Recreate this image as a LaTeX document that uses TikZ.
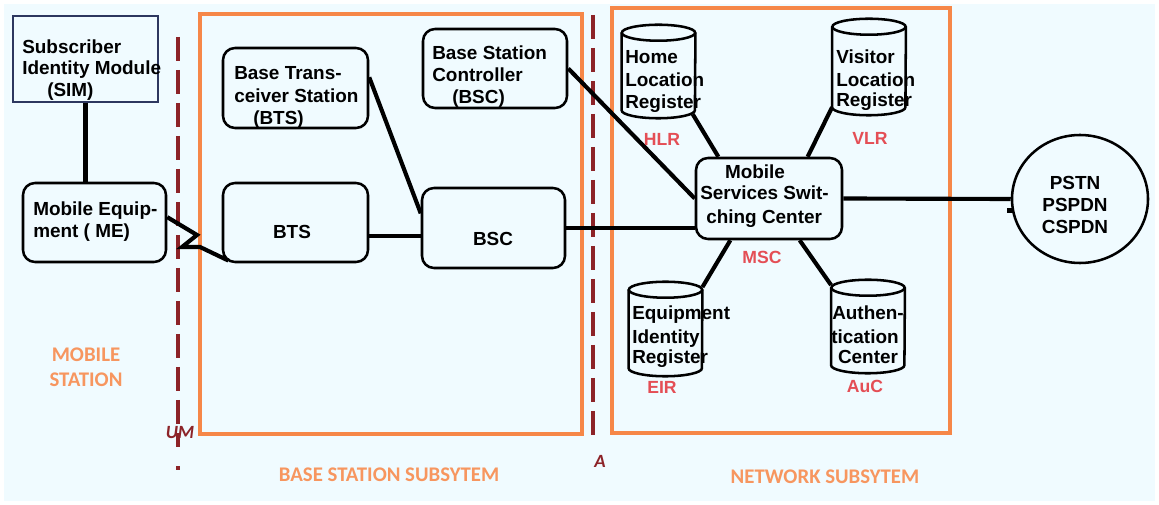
\documentclass[tikz,border=0pt]{standalone}
\usepackage{fontspec}
\setmainfont{Liberation Sans}
\newfontfamily\calfont{Carlito}
\usetikzlibrary{shapes.geometric}

\definecolor{bgc}{RGB}{240,251,255}
\definecolor{orng}{RGB}{246,135,72}
\definecolor{orngtxt}{RGB}{247,150,95}
\definecolor{dred}{RGB}{140,35,40}
\definecolor{lred}{RGB}{228,78,85}
\definecolor{simc}{RGB}{45,55,95}

\newcommand\txtfont{\fontsize{14.2}{17}\selectfont\bfseries}
\newcommand\abbrfont{\fontsize{13.2}{15}\selectfont\bfseries}
\newcommand\subfont{\calfont\fontsize{15.6}{18}\selectfont\bfseries}
\newcommand\ifacefont{\calfont\fontsize{14}{16}\selectfont\bfseries\itshape}

% database drawn on an invisible rectangle node
\newcommand\cylinderdraw[1]{%
  \draw[cylline] ([yshift=-6pt]#1.north west) -- ([yshift=6pt]#1.south west)
    arc[start angle=180, end angle=360, x radius=27.5pt, y radius=6pt]
    -- ([yshift=-6pt]#1.north east);
  \draw[cylline] ([yshift=-6pt]#1.north) ellipse[x radius=27.5pt, y radius=6pt];}

\begin{document}
\begin{tikzpicture}[x=0.75pt,y=-0.75pt,
  rbox/.style={draw=black, line width=1.9pt, rounded corners=9pt, inner sep=0},
  cylbox/.style={inner sep=0, minimum width=55pt},
  cylline/.style={line width=1.9pt},
  wire/.style={line width=3.1pt},
  region/.style={draw=orng, line width=3pt, inner sep=0},
  iface/.style={draw=dred, line width=3.6pt, dash pattern=on 18pt off 6.75pt},
  txt/.style={font=\txtfont, inner sep=0, anchor=base west},
  ctxt/.style={font=\txtfont, inner sep=0},
  abbr/.style={font=\abbrfont, text=lred, inner sep=0},
  sub/.style={font=\subfont, text=orngtxt, inner sep=0},
  ifl/.style={font=\ifacefont, text=dred, inner sep=0}]

\useasboundingbox (0,0) rectangle (1159,505);
\fill[white] (0,0) rectangle (1159,505);
\fill[bgc] (4,4) rectangle (1155,501);

% subsystem frames
\node[region, minimum width=286.5pt, minimum height=315pt] (bss) at (391,224) {};
\node[region, minimum width=253.5pt, minimum height=318.75pt] (nss) at (781,220.5) {};

% interfaces
\coordinate (umtop) at (178,37);
\coordinate (umbot) at (178,447);
\coordinate (umdot1) at (178,466);
\coordinate (umdot2) at (178,470);
\draw[iface] (umtop) -- (umbot);
\draw[iface] (umdot1) -- (umdot2);
\coordinate (atop) at (593,15);
\coordinate (abot) at (593,443);
\draw[iface] (atop) -- (abot);

% mobile station
\node[draw=simc, line width=0.9pt, inner sep=0, minimum width=108.75pt, minimum height=64.5pt] (sim) at (85.5,59) {};
\node[rbox, minimum width=107.25pt, minimum height=59.25pt] (me) at (94.5,222.5) {};

% base station subsystem
\node[rbox, minimum width=108.75pt, minimum height=60pt] (btsd) at (295.5,88) {};
\node[rbox, minimum width=108.75pt, minimum height=59.25pt] (bts) at (295.5,222.5) {};
\node[rbox, minimum width=108pt, minimum height=59.25pt] (bscd) at (495,68.5) {};
\node[rbox, minimum width=107.25pt, minimum height=60pt] (bsc) at (493.5,228) {};

% network subsystem
\node[rbox, minimum width=109.5pt, minimum height=60.75pt] (msc) at (769,198.5) {};
\node[cylbox, minimum height=69.75pt] (hlr) at (658.5,71.5) {};
\node[cylbox, minimum height=72pt] (vlr) at (869,67) {};
\node[cylbox, minimum height=70.5pt] (eir) at (665.5,329) {};
\node[cylbox, minimum height=69.75pt] (auc) at (868,326.5) {};
\cylinderdraw{hlr}
\cylinderdraw{vlr}
\cylinderdraw{eir}
\cylinderdraw{auc}

% external networks
\node[ellipse, draw, line width=1.9pt, inner sep=0, minimum width=102pt, minimum height=96pt] (pstn) at (1080,199) {};

% connections
\draw[wire] (sim.south) -- (sim.south |- me.north);
\draw[wire] ([yshift=4pt]me.east) -- (197,235) -- (182,247) -- (200,247) -- ([xshift=5pt,yshift=2pt]bts.south west);
\draw[wire] ([yshift=8pt]btsd.east) -- ([yshift=11pt]bsc.west);
\coordinate (bt) at ([yshift=-10pt]bts.east);
\draw[wire] (bt) -- (bt -| bsc.west);
\draw[wire] (bscd.east) -- (msc.west);
\draw[wire] (bsc.east) -- (bsc.east -| msc.west);
\draw[wire] ([xshift=-2pt,yshift=3pt]hlr.south east) -- ([xshift=-38pt]msc.north);
\draw[wire] ([yshift=6pt]vlr.south west) -- ([xshift=29pt]msc.north);
\draw[wire] ([xshift=-29pt]msc.south) -- ([yshift=-4pt]eir.north east);
\draw[wire] ([xshift=23pt]msc.south) -- ([yshift=-4pt]auc.north west);
\draw[wire] (msc.east) -- (pstn.west);
\fill (1007,208) rectangle (1014,213);

% labels inside the boxes
\node[txt] (simA) at (22,54) {Subscriber};
\node[txt] (simB) at (22,75) {Identity Module};
\node[txt] (simC) at (47,97) {(SIM)};
\node[txt] (meA) at (33,216) {Mobile Equip-};
\node[txt] (meB) at (33,238) {ment ( ME)};
\node[txt] (btsA) at (234,80) {Base Trans-};
\node[txt] (btsB) at (234,103) {ceiver Station};
\node[txt] (btsC) at (253,125) {(BTS)};
\node[ctxt] (btsL) at (292,232) {BTS};
\node[txt] (bscA) at (432,60) {Base Station};
\node[txt] (bscB) at (432,82) {Controller};
\node[txt] (bscC) at (452,104) {(BSC)};
\node[ctxt] (bscL) at (493,239) {BSC};
\node[txt] (hlrA) at (625,64) {Home};
\node[txt] (hlrB) at (625,87) {Location};
\node[txt] (hlrC) at (625,109) {Register};
\node[txt] (vlrA) at (836,64) {Visitor};
\node[txt] (vlrB) at (836,87) {Location};
\node[txt] (vlrC) at (836,107) {Register};
\node[ctxt, anchor=base] (mscA) at (755,179) {Mobile};
\node[txt] (mscB) at (700,200) {Services Swit-};
\node[txt] (mscC) at (706,224) {ching Center};
\node[txt] (eirA) at (632,320) {Equipment};
\node[txt] (eirB) at (632,344) {Identity};
\node[txt] (eirC) at (632,364) {Register};
\node[ctxt, anchor=base] (aucA) at (868,320) {Authen-};
\node[ctxt, anchor=base] (aucB) at (865,344) {tication};
\node[ctxt, anchor=base] (aucC) at (868,364) {Center};
\node[ctxt] (pstnA) at (1075,183) {PSTN};
\node[ctxt] (pstnB) at (1075,205) {PSPDN};
\node[ctxt] (pstnC) at (1075,227) {CSPDN};

% abbreviations
\node[abbr] (hlrL) at (662,139) {HLR};
\node[abbr] (vlrL) at (870,138) {VLR};
\node[abbr] (mscL) at (762,257) {MSC};
\node[abbr] (eirL) at (662,387) {EIR};
\node[abbr] (aucL) at (865,386) {AuC};

% subsystem and interface names
\node[sub] (msA) at (86,355) {MOBILE};
\node[sub] (msB) at (86,380) {STATION};
\node[sub] (bssL) at (389,475) {BASE STATION SUBSYTEM};
\node[sub] (nssL) at (825,477) {NETWORK SUBSYTEM};
\node[ifl] (umL) at (180,433) {UM};
\node[ifl] (aL) at (600,461) {A};
\end{tikzpicture}
\end{document}
